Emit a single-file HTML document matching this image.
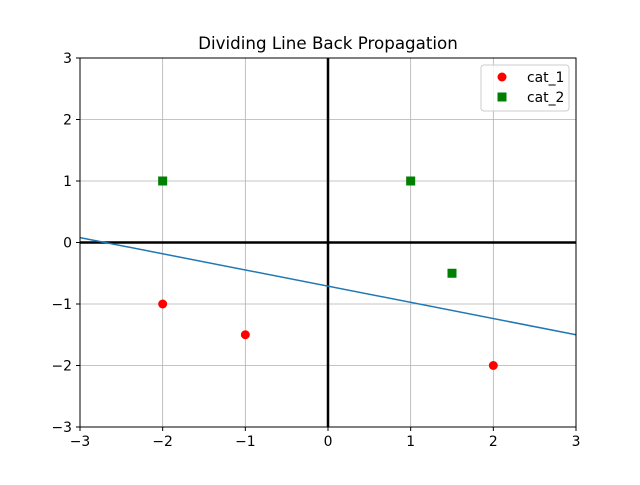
<!DOCTYPE html>
<html><head><meta charset="utf-8"><style>
body{margin:0;background:#fff}
svg text{font-family:"DejaVu Sans","Liberation Sans",sans-serif}
</style></head><body>
<svg id="chart" width="640" height="480" xmlns="http://www.w3.org/2000/svg">
<rect width="640" height="480" fill="#fff"/>
<text x="328" y="49" text-anchor="middle" font-size="16.7">Dividing Line Back Propagation</text>
<g id="grid"></g>
<g id="marks"></g>
<rect x="80" y="58" width="496" height="369" fill="none" stroke="#000" stroke-width="1"/>
<g id="ticks"></g>
<g>
<rect x="481" y="65" width="88" height="46" rx="3" fill="#fff" fill-opacity="0.8" stroke="#ccc"/>
<circle cx="502" cy="77" r="4.5" fill="red"/>
<text x="527" y="82" font-size="13.9">cat_1</text>
<rect x="497.5" y="92.5" width="9" height="9" fill="green"/>
<text x="527" y="102" font-size="13.9">cat_2</text>
</g>
</svg>
<script>
const ticks=[-3,-2,-1,0,1,2,3];
const cat1X=[-2,-1,2];
const cat1Y=[-1,-1.5,-2];
const cat2X=[-2,1,1.5];
const cat2Y=[1,1,-0.5];
const lineX=[-3,3];
const lineY=[0.08,-1.5];
const NS="http://www.w3.org/2000/svg";
const sx=v=>80+(v+3)/6*496;
const sy=v=>427-(v+3)/6*369;
function mk(tag,attrs,parent){const e=document.createElementNS(NS,tag);for(const k in attrs)e.setAttribute(k,attrs[k]);document.getElementById(parent).appendChild(e);return e;}
ticks.forEach(t=>{
 let g=mk('line',{x1:sx(t),x2:sx(t),y1:58,y2:427,stroke:'#b0b0b0','stroke-width':0.8},'grid');
 
 
 g=mk('line',{x1:80,x2:576,y1:sy(t),y2:sy(t),stroke:'#b0b0b0','stroke-width':0.8},'grid');
 
 
 let l=mk('line',{x1:sx(t),x2:sx(t),y1:427,y2:431,stroke:'#000'},'ticks');
 
 
 let tx=mk('text',{x:sx(t),y:446,'text-anchor':'middle','font-size':13.9},'ticks');
 tx.textContent=(t<0?'\u2212'+(-t):t);
 
 
 l=mk('line',{x1:76,x2:80,y1:sy(t),y2:sy(t),stroke:'#000'},'ticks');
 
 
 tx=mk('text',{x:72,y:sy(t)+5,'text-anchor':'end','font-size':13.9},'ticks');
 tx.textContent=(t<0?'\u2212'+(-t):t);
 
 
});
let a=mk('line',{x1:80,x2:576,y1:sy(0),y2:sy(0),stroke:'#000','stroke-width':2.5},'marks');


a=mk('line',{x1:sx(0),x2:sx(0),y1:58,y2:427,stroke:'#000','stroke-width':2.5},'marks');


let ln=mk('line',{x1:sx(lineX[0]),y1:sy(lineY[0]),x2:sx(lineX[1]),y2:sy(lineY[1]),stroke:'#1f77b4','stroke-width':1.5},'marks');


cat1X.forEach((x,i)=>{
 const c=mk('circle',{cx:sx(x),cy:sy(cat1Y[i]),r:4.5,fill:'red'},'marks');
 
 
});
cat2X.forEach((x,i)=>{
 const r=mk('rect',{x:sx(x)-4.5,y:sy(cat2Y[i])-4.5,width:9,height:9,fill:'green'},'marks');
 
 
});
</script>
</body></html>
